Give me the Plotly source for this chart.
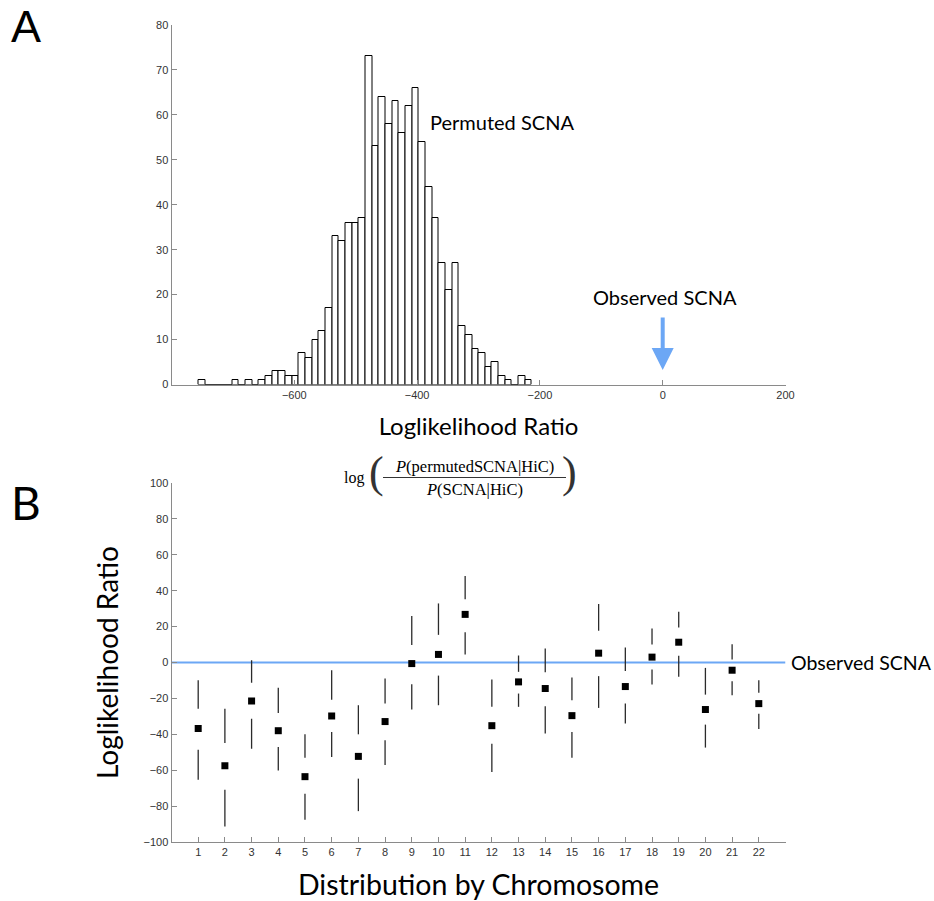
import plotly.graph_objects as go

# ---------------- Panel A: histogram of permuted log-likelihood ratios
bin_centers = [-750.0, -739.15, -728.3, -717.45, -706.6, -695.75, -684.9, -674.05, -663.2, -652.35,
               -641.5, -630.65, -619.8, -608.95, -598.1, -587.25, -576.4, -565.55, -554.7, -543.85,
               -533.0, -522.15, -511.3, -500.45, -489.6, -478.75, -467.9, -457.05, -446.2, -435.35,
               -424.5, -413.65, -402.8, -391.95, -381.1, -370.25, -359.4, -348.55, -337.7, -326.85,
               -316.0, -305.15, -294.3, -283.45, -272.6, -261.75, -250.9, -240.05, -229.2, -218.35]
counts = [1, 0, 0, 0, 0, 1, 0, 1, 0, 1,
          2, 3, 3, 2, 2, 7, 6, 10, 12, 17,
          33, 32, 36, 36, 37, 73, 53, 64, 58, 63,
          56, 62, 66, 54, 44, 37, 27, 21, 27, 13,
          11, 8, 7, 4, 5, 2, 1, 0, 2, 1]
bin_width = 10.85
observed_llr = 0

hist_xticks = [-600, -400, -200, 0, 200]
hist_yticks = [0, 10, 20, 30, 40, 50, 60, 70, 80]

# ---------------- Panel B: per-chromosome distributions
chromosomes = list(range(1, 23))
median = [-36.8, -57.5, -21.4, -38.0, -63.6, -29.8, -52.3, -32.9, -0.6, 4.5, 26.8,
          -35.2, -10.8, -14.5, -29.6, 5.2, -13.4, 3.0, 11.3, -26.2, -4.3, -22.9]
upper_top = [-9.9, -25.7, 1.3, -14.0, -40.0, -4.3, -23.8, -8.9, 25.9, 32.9, 48.2,
             -9.5, 3.9, 7.8, -8.4, 32.6, 8.4, 19.0, 28.3, -3.0, 10.2, -9.9]
upper_bot = [-25.7, -44.8, -11.3, -28.1, -53.0, -20.7, -40.0, -22.9, 9.7, 15.4, 35.3,
             -24.7, -5.2, -5.4, -21.0, 17.7, -4.7, 10.0, 19.5, -17.9, 1.7, -16.9]
lower_top = [-48.6, -70.9, -31.3, -47.1, -73.1, -38.7, -64.7, -43.3, -12.1, -7.3, 16.9,
             -45.2, -17.3, -24.4, -38.7, -7.6, -22.9, -3.9, 3.7, -34.6, -10.4, -28.5]
lower_bot = [-65.3, -91.3, -48.0, -60.1, -87.6, -52.7, -82.8, -57.1, -26.2, -23.8, 4.5,
             -61.0, -24.7, -39.6, -53.0, -25.3, -34.0, -12.3, -8.0, -47.4, -18.2, -37.0]
chrom_yticks = [-100, -80, -60, -40, -20, 0, 20, 40, 60, 80, 100]

W, H = 934, 901
BLUE = "#6ca7f5"
AXIS = "#8a8a8a"
TICKFONT = dict(family="Liberation Sans, Arial, sans-serif", size=11, color="#333333")
TITLEFONT = "Lato, 'Gill Sans', sans-serif"
SERIF = "Liberation Serif, 'Times New Roman', serif"


def px(xp):
    return xp / W


def py(yp):
    return 1 - yp / H


fig = go.Figure()

fig.add_trace(go.Bar(
    x=bin_centers, y=counts, width=bin_width,
    marker=dict(color="white", line=dict(color="black", width=1)),
    xaxis="x", yaxis="y", showlegend=False, hoverinfo="x+y",
))

# whiskers (segments above and below the median gap)
wx, wy = [], []
for c, a, b, d, e in zip(chromosomes, upper_top, upper_bot, lower_top, lower_bot):
    wx += [c, c, None, c, c, None]
    wy += [a, b, None, d, e, None]
fig.add_trace(go.Scatter(
    x=wx, y=wy, mode="lines", line=dict(color="#2b2b2b", width=1.3),
    xaxis="x2", yaxis="y2", showlegend=False, hoverinfo="skip",
))
fig.add_trace(go.Scatter(
    x=chromosomes, y=median, mode="markers",
    marker=dict(symbol="square", size=7, color="black"),
    xaxis="x2", yaxis="y2", showlegend=False,
))

x_dom = [px(171.5), px(785.5)]
axis_common = dict(showline=True, linecolor=AXIS, linewidth=1, ticks="inside", ticklen=5,
                   tickcolor=AXIS, showgrid=False, zeroline=False, tickfont=TICKFONT,
                   automargin=False, fixedrange=True)

fig.update_layout(
    width=W, height=H,
    margin=dict(l=0, r=0, t=0, b=0),
    paper_bgcolor="white", plot_bgcolor="white",
    bargap=0,
    xaxis=dict(domain=x_dom, range=[-800, 200], tickvals=hist_xticks, anchor="y",
               title=dict(text="Loglikelihood Ratio", standoff=18,
                          font=dict(family=TITLEFONT, size=24, color="black")),
               **axis_common),
    yaxis=dict(domain=[py(384.5), py(25)], range=[0, 80], tickvals=hist_yticks, anchor="x",
               **axis_common),
    xaxis2=dict(domain=x_dom, range=[0, 23], tickvals=chromosomes, anchor="y2",
                title=dict(text="Distribution by Chromosome", standoff=20,
                           font=dict(family=TITLEFONT, size=28.5, color="black")),
                **axis_common),
    yaxis2=dict(domain=[py(842), py(483)], range=[-100, 100], tickvals=chrom_yticks, anchor="x2",
                title=dict(text="Loglikelihood Ratio", standoff=16,
                           font=dict(family=TITLEFONT, size=28, color="black")),
                **axis_common),
)

# observed reference line in panel B
fig.add_shape(type="line", xref="x2", yref="y2", x0=0, x1=23, y0=observed_llr, y1=observed_llr,
              line=dict(color=BLUE, width=2), layer="below")

annotations = [
    dict(text="A", x=px(9), y=py(26), xref="paper", yref="paper", xanchor="left", yanchor="middle",
         showarrow=False, font=dict(family="Liberation Sans, Arial, sans-serif", size=45, color="black")),
    dict(text="B", x=px(9), y=py(502), xref="paper", yref="paper", xanchor="left", yanchor="middle",
         showarrow=False, font=dict(family=TITLEFONT, size=46, color="black")),
    dict(text="Permuted SCNA", x=-383, y=58.4, xref="x", yref="y", xanchor="left", yanchor="middle",
         showarrow=False, font=dict(family=TITLEFONT, size=20, color="black")),
    dict(text="Observed SCNA", x=observed_llr + 4, y=19.5, xref="x", yref="y", xanchor="center",
         yanchor="middle", showarrow=False, font=dict(family=TITLEFONT, size=20, color="black")),
    dict(text="", x=observed_llr, y=3.2, xref="x", yref="y", ax=0, ay=-54, showarrow=True,
         arrowhead=2, arrowsize=1.1, arrowwidth=4, arrowcolor=BLUE),
    dict(text="Observed SCNA", x=23, y=observed_llr, xref="x2", yref="y2", xanchor="left",
         yanchor="middle", xshift=3, showarrow=False,
         font=dict(family=TITLEFONT, size=19.5, color="black")),
    # formula under panel A title
    dict(text="log", x=px(342), y=py(478), xref="paper", yref="paper", xanchor="left", yanchor="middle",
         showarrow=False, font=dict(family=SERIF, size=16, color="black")),
    dict(text="(", x=px(367), y=py(472), xref="paper", yref="paper", xanchor="left", yanchor="middle",
         showarrow=False, font=dict(family=SERIF, size=44, color="#333333")),
    dict(text=")", x=px(579), y=py(472), xref="paper", yref="paper", xanchor="right", yanchor="middle",
         showarrow=False, font=dict(family=SERIF, size=44, color="#333333")),
    dict(text="<i>P</i>(permutedSCNA|HiC)", x=px(475), y=py(466), xref="paper", yref="paper",
         xanchor="center", yanchor="middle", showarrow=False,
         font=dict(family=SERIF, size=16.5, color="black")),
    dict(text="<i>P</i>(SCNA|HiC)", x=px(475), y=py(490), xref="paper", yref="paper",
         xanchor="center", yanchor="middle", showarrow=False,
         font=dict(family=SERIF, size=16.5, color="black")),
]
fig.update_layout(annotations=annotations)
fig.add_shape(type="line", xref="paper", yref="paper", x0=px(383), x1=px(566), y0=py(477.5), y1=py(477.5),
              line=dict(color="black", width=0.8))

fig.write_html("out.html", config={"displayModeBar": False},
               post_script="document.body.style.margin='0';")
